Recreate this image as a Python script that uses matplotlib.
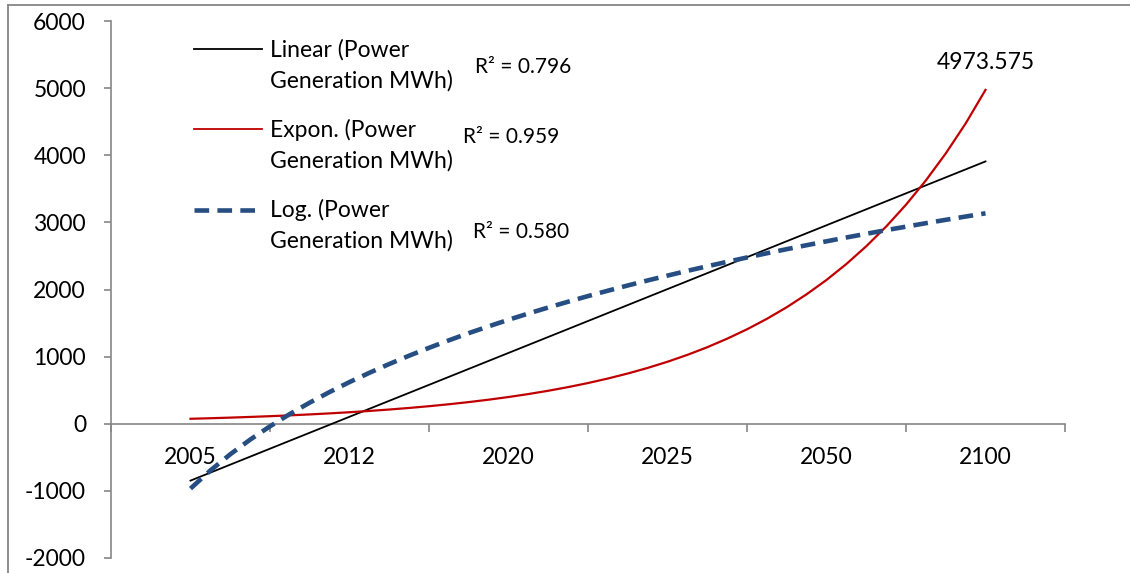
import matplotlib
matplotlib.use("Agg")
import matplotlib.pyplot as plt
from matplotlib.lines import Line2D

plt.rcParams['font.family'] = ['Lato', 'DejaVu Sans']
plt.rcParams['axes.unicode_minus'] = False

categories = ['2005', '2012', '2020', '2025', '2050', '2100']

# trendline values (category positions 1..6)
linear_x = [1, 2, 3, 4, 5, 6]
linear_y = [-847, 104, 1055, 2006, 2957, 3908]

curve_x = [1, 1.125, 1.25, 1.375, 1.5, 1.625, 1.75, 1.875, 2, 2.125, 2.25, 2.375,
           2.5, 2.625, 2.75, 2.875, 3, 3.125, 3.25, 3.375, 3.5, 3.625, 3.75, 3.875,
           4, 4.125, 4.25, 4.375, 4.5, 4.625, 4.75, 4.875, 5, 5.125, 5.25, 5.375,
           5.5, 5.625, 5.75, 5.875, 6]
expon_y = [74.0, 82.2, 91.3, 101.5, 112.7, 125.2, 139.1, 154.5, 171.7, 190.7, 211.9,
           235.4, 261.5, 290.5, 322.7, 358.5, 398.2, 442.4, 491.5, 546.0, 606.5, 673.8,
           748.5, 831.5, 923.7, 1026, 1140, 1267, 1407, 1563, 1736, 1929, 2142, 2380,
           2644, 2937, 3263, 3625, 4027, 4473, 4973.575]
log_y = [-966, -696, -455, -237, -38, 145, 315, 473, 621, 759, 890, 1014, 1131, 1243,
         1350, 1451, 1549, 1642, 1732, 1818, 1902, 1982, 2060, 2135, 2207, 2278, 2346,
         2412, 2477, 2540, 2601, 2660, 2718, 2775, 2830, 2884, 2936, 2988, 3038, 3087,
         3135]

series_labels = [('Linear (Power', 'Generation MWh)'),
                 ('Expon. (Power', 'Generation MWh)'),
                 ('Log. (Power', 'Generation MWh)')]
r2_labels = ['R² = 0.796', 'R² = 0.959', 'R² = 0.580']
end_label = '4973.575'

W, H = 1130, 573
fig = plt.figure(figsize=(W / 100, H / 100), dpi=100)
ax = fig.add_axes([111 / W, 1 - 558 / H, (1065 - 111) / W, (558 - 21) / H])

c_lin, c_exp, c_log = 'black', '#C00000', '#264E82'
ax.plot(linear_x, linear_y, color=c_lin, lw=1.3, zorder=3)
ax.plot(curve_x, expon_y, color=c_exp, lw=1.6, zorder=3)
ax.plot(curve_x, log_y, color=c_log, lw=3.3, dashes=(3.2, 1.8), zorder=4)

ax.set_xlim(0.5, 6.5)
ax.set_ylim(-2000, 6000)

FS = 16.5
gray = '#868686'
for s in ['top', 'right']:
    ax.spines[s].set_visible(False)
ax.spines['left'].set_color(gray)
ax.spines['bottom'].set_color(gray)
ax.spines['left'].set_linewidth(1.2)
ax.spines['bottom'].set_linewidth(1.2)
ax.spines['bottom'].set_position(('data', 0))

ax.set_yticks(range(-2000, 6001, 1000))
ax.tick_params(axis='y', direction='out', length=5, width=1.2, color=gray,
               labelsize=FS, pad=13)
ax.set_xticks(range(1, 7))
ax.set_xticklabels(categories)
ax.set_xticks([0.5 + i for i in range(7)], minor=True)
ax.tick_params(axis='x', which='major', length=0, labelsize=FS, pad=17)
ax.tick_params(axis='x', which='minor', direction='out', length=6, width=1.2, color=gray)

# end-point label
ax.annotate(end_label, xy=(6, 4973.575), xytext=(0, 19.5), textcoords='offset points',
            ha='center', va='center', fontsize=FS)

# manual legend
def fx(px):
    return px / W

def fy(py):
    return 1 - py / H

colors = [c_lin, c_exp, c_log]
handle_y = [49, 129, 210]
base1 = [57, 137, 217]
base2 = [88, 168, 248]
for (l1, l2), col, hy, b1, b2 in zip(series_labels, colors, handle_y, base1, base2):
    if col == c_log:
        fig.add_artist(Line2D([fx(194), fx(260)], [fy(hy), fy(hy)], color=col,
                              lw=3.3, dashes=(3.2, 1.8)))
    else:
        fig.add_artist(Line2D([fx(194), fx(262)], [fy(hy), fy(hy)], color=col, lw=1.3))
    fig.text(fx(270), fy(b1), l1, ha='left', va='baseline', fontsize=FS)
    fig.text(fx(270), fy(b2), l2, ha='left', va='baseline', fontsize=FS)

r2_pos = [(475, 73), (463, 143), (473, 238)]
for txt, (px, py) in zip(r2_labels, r2_pos):
    fig.text(fx(px), fy(py), txt, ha='left', va='baseline', fontsize=15)

# outer border (top and left visible)
fig.add_artist(Line2D([fx(8), 1.0], [fy(5), fy(5)], color=gray, lw=1.3))
fig.add_artist(Line2D([fx(8), fx(8)], [fy(5), 0.0], color=gray, lw=1.3))

fig.savefig('out.png', dpi=100)
